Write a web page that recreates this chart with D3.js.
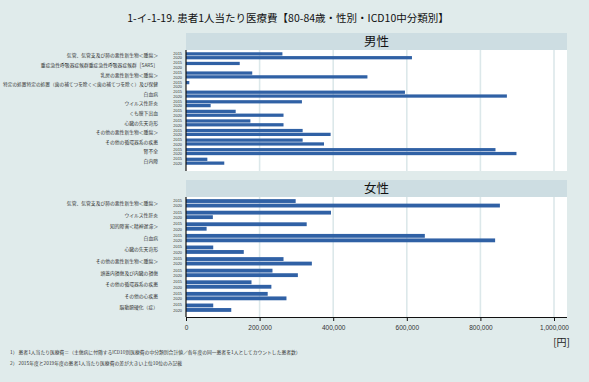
<!DOCTYPE html>
<html>
<head>
<meta charset="utf-8">
<script src="https://cdn.jsdelivr.net/npm/d3@7"></script>
<style>
  html, body { margin: 0; padding: 0; background: #e0ebeb; }
  svg { display: block; font-family: "Noto Sans CJK JP", "Noto Sans", sans-serif; }
</style>
</head>
<body>
<svg id="chart" width="589" height="382"></svg>
<script>
// Medical cost per patient (yen), age 80-84, by sex and ICD10 sub-category
const years = ["2015", "2020"];

const maleCategories = [
  "気管、気管支及び肺の悪性新生物＜腫瘍＞",
  "重症急性呼吸器症候群重症急性呼吸器症候群［SARS］",
  "乳房の悪性新生物＜腫瘍＞",
  "特定の処置特定の処置（歯の補てつを除く＜歯の補てつを除く）及び保健",
  "白血病",
  "ウイルス性肝炎",
  "くも膜下出血",
  "心臓の先天奇形",
  "その他の悪性新生物＜腫瘍＞",
  "その他の循環器系の疾患",
  "腎不全",
  "白内障"
];
const male2015 = [262000, 146000, 180000, 9000, 595000, 315000, 135000, 175000, 317000, 317000, 841000, 58000];
const male2020 = [614000, 0, 493000, 0, 872000, 67000, 265000, 265000, 393000, 375000, 898000, 104000];

const femaleCategories = [
  "気管、気管支及び肺の悪性新生物＜腫瘍＞",
  "ウイルス性肝炎",
  "知的障害＜精神遅滞＞",
  "白血病",
  "心臓の先天奇形",
  "その他の悪性新生物＜腫瘍＞",
  "頭蓋内損傷及び内臓の損傷",
  "その他の循環器系の疾患",
  "その他の心疾患",
  "脳動脈硬化（症）"
];
const female2015 = [298000, 394000, 328000, 649000, 74000, 265000, 235000, 178000, 222000, 74000];
const female2020 = [853000, 73000, 56000, 840000, 157000, 342000, 304000, 232000, 273000, 123000];

const xTicks = [0, 200000, 400000, 600000, 800000, 1000000];

const title = "1-イ-1-19. 患者1人当たり医療費【80-84歳・性別・ICD10中分類別】";
const notes = [
  "1）  患者1人当たり医療費＝（主傷病に付随するICD10別医療費の中分類別合計値／各年度の同一患者を1人としてカウントした患者数）",
  "2）  2015年度と2019年度の患者1人当たり医療費の差が大きい上位10位のみ記載"
];

const svg = d3.select("#chart");
const plotLeft = 186, plotRight = 567;
const x = d3.scaleLinear().domain([0, 1000000]).range([plotLeft, 554]);
const barColor = "#3061a5";

svg.append("text")
  .attr("x", 288).attr("y", 22)
  .attr("text-anchor", "middle")
  .attr("font-size", 10.5)
  .attr("fill", "#111")
  .text(title);

function panel(name, cats, v2015, v2020, headTop, plotTop, plotBottom, bandTop, bandBottom, inner) {
  // header strip
  svg.append("rect")
    .attr("x", plotLeft).attr("y", headTop)
    .attr("width", plotRight - plotLeft).attr("height", plotTop - headTop)
    .attr("fill", "#cddde2");
  svg.append("text")
    .attr("x", (plotLeft + plotRight) / 2).attr("y", (headTop + plotTop) / 2 + 4.5)
    .attr("text-anchor", "middle").attr("font-size", 12.5).attr("fill", "#111")
    .text(name);

  // plot background and gridlines
  svg.append("rect")
    .attr("x", plotLeft).attr("y", plotTop)
    .attr("width", plotRight - plotLeft).attr("height", plotBottom - plotTop)
    .attr("fill", "#ffffff");
  svg.append("g").selectAll("line").data(xTicks.slice(1)).join("line")
    .attr("x1", d => x(d)).attr("x2", d => x(d))
    .attr("y1", plotTop).attr("y2", plotBottom)
    .attr("stroke", "#dce8ea").attr("stroke-width", 1.6);

  const y = d3.scaleBand().domain(cats).range([bandTop, bandBottom]).paddingInner(0);
  const yy = d3.scaleBand().domain(years).range([y.bandwidth() * (0.5 - inner / 2), y.bandwidth() * (0.5 + inner / 2)]).paddingInner(0.15);
  // year labels sit on the halves of each category band
  const yl = d3.scalePoint().domain(years).range([y.bandwidth() * 0.26, y.bandwidth() * 0.74]);

  const rows = cats.map((c, i) => ({ cat: c, vals: [v2015[i], v2020[i]] }));
  const g = svg.append("g");
  rows.forEach(r => {
    years.forEach((yr, j) => {
      g.append("rect")
        .attr("x", x(0))
        .attr("y", y(r.cat) + yy(yr))
        .attr("width", x(r.vals[j]) - x(0))
        .attr("height", yy.bandwidth())
        .attr("fill", barColor);
      g.append("text")
        .attr("x", 182)
        .attr("y", y(r.cat) + yl(yr) + 1.4)
        .attr("text-anchor", "end")
        .attr("font-family", "Liberation Sans, Arial, sans-serif")
        .attr("font-size", 3.9)
        .attr("fill", "#333")
        .text(yr);
    });
    const lbl = g.append("text")
      .attr("x", 158)
      .attr("y", y(r.cat) + y.bandwidth() / 2 + 1.7)
      .attr("text-anchor", "end")
      .attr("font-size", 4.8)
      .attr("fill", "#333")
      .text(r.cat);
    // squeeze labels that would run past the left edge
    const w = lbl.node().getComputedTextLength();
    if (w > 155) lbl.attr("textLength", 155).attr("lengthAdjust", "spacingAndGlyphs");
  });

  // left axis line
  svg.append("line")
    .attr("x1", plotLeft).attr("x2", plotLeft)
    .attr("y1", plotTop).attr("y2", plotBottom)
    .attr("stroke", "#111").attr("stroke-width", 1.2);
  return plotBottom;
}

panel("男性", maleCategories, male2015, male2020, 33, 50, 171, 51, 166, 0.74);
const bottom = panel("女性", femaleCategories, female2015, female2020, 180, 197, 317, 197.5, 313.5, 0.72);

// bottom value axis
const axis = svg.append("g")
  .attr("transform", `translate(0,${bottom})`)
  .call(d3.axisBottom(x).tickValues(xTicks).tickFormat(d3.format(",")).tickSize(4).tickSizeOuter(0));
axis.select(".domain").attr("stroke", "#111").attr("d", `M${plotLeft},0.5H${plotRight}`);
axis.selectAll(".tick line").attr("stroke", "#111");
axis.selectAll(".tick text").attr("font-size", 6.5).attr("fill", "#333")
  .attr("font-family", "Liberation Sans, Arial, sans-serif").attr("dy", "0.9em");

svg.append("text")
  .attr("x", 570).attr("y", 346)
  .attr("text-anchor", "end").attr("font-size", 10).attr("fill", "#222")
  .text("[円]");

notes.forEach((t, i) => {
  svg.append("text")
    .attr("x", 10).attr("y", 354 + i * 11)
    .attr("font-size", 4.8).attr("fill", "#333")
    .text(t);
});
</script>
</body>
</html>
